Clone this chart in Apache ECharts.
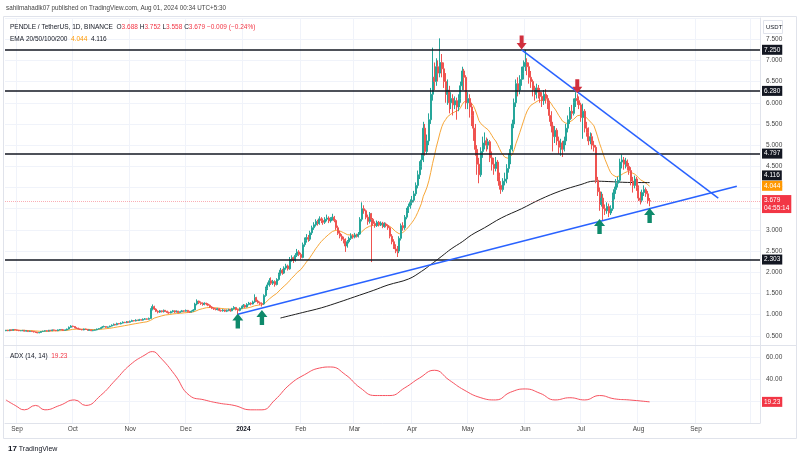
<!DOCTYPE html>
<html>
<head>
<meta charset="utf-8">
<script src="https://cdn.jsdelivr.net/npm/echarts/dist/echarts.min.js"></script>
<style>
  html, body { margin: 0; padding: 0; background: #fff; }
  #chart { width: 800px; height: 460px; }
</style>
</head>
<body>
<div id="chart"></div>
<script>
// daily slots, first one is 2023-08-26, the right side is left empty like on TradingView
const startDate = '2023-08-26'
const slotCount = 407
const lastLabelDate = '2024-09-30'
const monthNames = ['Jan', 'Feb', 'Mar', 'Apr', 'May', 'Jun', 'Jul', 'Aug', 'Sep', 'Oct', 'Nov', 'Dec']

// PENDLE/USDT 1D, open of a day = close of the day before
const firstOpen = 0.62
const closes = [
  0.63,0.62,0.64,0.63,0.65,0.64,0.63,0.62,0.62,0.63,0.61,0.62,0.60,0.61,0.60,0.59,0.58,
  0.57,0.58,0.60,0.61,0.62,0.61,0.63,0.62,0.64,0.63,0.62,0.64,0.65,0.64,0.63,0.64,
  0.66,0.70,0.73,0.72,0.69,0.68,
  0.66,0.65,0.64,0.66,0.65,0.63,0.64,0.62,0.63,0.64,0.66,0.67,
  0.69,0.71,0.72,0.70,0.71,0.73,
  0.75,0.77,0.76,0.79,0.78,0.80,0.82,0.81,0.83,0.82,0.84,0.86,0.85,0.87,0.86,0.88,0.87,0.89,0.90,0.89,0.91,
  1.12,1.19,
  1.13,1.08,1.06,1.09,1.07,1.10,1.08,1.05,1.04,1.07,1.09,1.06,1.08,1.05,1.07,1.09,1.08,1.10,1.07,1.06,1.08,1.11,
  1.25,1.32,
  1.28,1.26,1.24,1.27,1.25,1.22,
  1.18,1.15,1.13,1.12,1.14,1.10,1.09,1.11,1.08,1.10,1.12,1.09,
  1.14,1.17,1.12,1.10,
  1.15,1.19,1.22,1.18,1.24,1.27,1.25,1.30,
  1.40,
  1.32,1.28,1.26,1.25,
  1.45,1.62,1.70,1.80,
  1.74,1.78,1.71,1.83,
  1.95,2.05,1.98,2.10,2.15,2.08,
  2.30,2.34,2.28,
  2.40,2.48,2.42,2.35,
  2.65,2.75,2.82,2.78,2.93,
  3.05,3.12,3.20,3.15,3.26,3.22,
  3.18,3.25,3.28,3.21,3.26,3.30,3.22,
  3.05,2.92,2.85,2.78,2.75,2.62,
  2.72,2.80,2.86,2.83,2.88,2.85,2.90,
  3.25,3.50,3.45,
  3.30,3.20,3.38,3.25,
  3.15,3.10,3.18,3.12,3.16,3.08,3.14,3.10,3.05,
  2.85,2.72,2.60,2.55,2.50,
  2.80,3.10,3.05,3.30,3.45,3.55,
  3.65,3.70,3.85,
  4.05,4.30,4.50,4.65,
  5.40,4.85,5.10,5.60,
  6.20,6.60,
  6.50,6.85,6.70,6.95,
  6.80,6.50,6.20,6.30,
  6.00,6.10,5.95,6.05,5.90,6.10,
  6.40,6.75,6.60,
  6.00,6.10,5.90,5.70,5.40,
  4.90,4.55,4.30,
  4.85,5.05,5.10,5.00,5.08,
  4.70,4.55,4.45,4.60,
  4.25,4.05,3.95,4.15,
  4.20,4.45,4.65,4.90,
  5.50,6.00,6.45,
  6.30,6.55,6.70,6.85,
  6.95,
  6.85,6.60,6.50,
  6.30,6.20,6.35,6.25,
  6.15,6.05,6.20,6.10,6.00,
  5.70,5.45,5.20,
  5.35,5.10,4.95,5.05,4.90,
  5.10,5.40,5.60,5.80,5.75,
  6.00,6.10,6.05,
  5.95,5.65,5.80,
  5.40,5.30,5.10,5.20,5.00,4.95,
  4.17,
  3.90,3.60,3.75,3.50,
  3.45,3.55,3.40,3.50,
  3.80,3.95,4.10,4.17,
  4.60,4.65,4.55,
  4.62,4.50,
  4.40,4.15,4.05,4.20,4.00,
  3.75,3.70,
  3.88,3.95,3.85,3.688,
  3.679
]
const highs = [
  0.64,0.64,0.65,0.65,0.66,0.66,0.65,0.64,0.63,0.64,0.64,0.63,0.63,0.62,0.62,0.61,0.60,
  0.59,0.59,0.61,0.62,0.63,0.63,0.64,0.64,0.65,0.65,0.64,0.65,0.66,0.66,0.65,0.65,
  0.67,0.72,0.75,0.74,0.73,0.70,
  0.69,0.67,0.66,0.67,0.67,0.66,0.65,0.65,0.64,0.65,0.67,0.68,
  0.70,0.73,0.74,0.73,0.72,0.74,
  0.77,0.79,0.78,0.81,0.80,0.82,0.84,0.83,0.85,0.84,0.86,0.88,0.87,0.89,0.88,0.90,0.89,0.91,0.92,0.91,0.93,
  1.15,1.24,
  1.21,1.15,1.10,1.11,1.10,1.12,1.11,1.09,1.07,1.09,1.11,1.10,1.10,1.09,1.09,1.11,1.10,1.12,1.11,1.09,1.10,1.13,
  1.28,1.36,
  1.33,1.31,1.29,1.29,1.28,1.27,
  1.24,1.20,1.17,1.15,1.16,1.15,1.12,1.13,1.12,1.12,1.14,1.13,
  1.16,1.20,1.18,1.14,
  1.17,1.21,1.25,1.24,1.27,1.30,1.29,1.33,
  1.48,
  1.42,1.35,1.31,1.29,
  1.48,1.66,1.76,1.86,
  1.88,1.82,1.81,1.86,
  1.99,2.10,2.08,2.14,2.20,2.18,
  2.36,2.40,2.37,
  2.45,2.55,2.52,2.46,
  2.70,2.82,2.90,2.88,2.98,
  3.10,3.18,3.25,3.24,3.32,3.30,
  3.27,3.30,3.36,3.32,3.30,3.38,3.33,
  3.25,3.10,2.98,2.90,2.84,2.80,
  2.76,2.84,2.92,2.90,2.93,2.91,2.95,
  3.30,3.65,3.58,
  3.48,3.36,3.42,3.40,
  3.28,3.20,3.22,3.21,3.20,3.19,3.18,3.17,3.13,
  3.08,2.90,2.78,2.66,2.62,
  2.85,3.15,3.18,3.35,3.52,3.62,
  3.72,3.80,3.92,
  4.12,4.40,4.62,4.80,
  5.55,5.50,5.25,5.75,
  6.35,7.30,
  6.95,7.05,7.00,7.52,
  7.15,6.95,6.70,6.55,
  6.40,6.25,6.20,6.15,6.12,6.20,
  6.50,6.85,6.80,
  6.65,6.25,6.20,6.00,5.80,
  5.50,5.00,4.70,
  4.95,5.20,5.30,5.18,5.15,
  5.12,4.85,4.70,4.72,
  4.65,4.35,4.15,4.22,
  4.35,4.55,4.80,5.00,
  5.60,6.10,6.55,
  6.60,6.65,6.85,7.00,
  7.25,
  7.05,6.95,6.75,
  6.55,6.40,6.45,6.42,
  6.35,6.25,6.30,6.32,6.18,
  6.05,5.80,5.55,
  5.45,5.40,5.20,5.15,5.10,
  5.20,5.50,5.70,5.90,5.95,
  6.10,6.25,6.20,
  6.15,6.00,5.98,
  5.85,5.55,5.42,5.30,5.28,5.10,
  5.00,
  4.25,4.00,3.90,3.85,
  3.60,3.65,3.62,3.58,
  3.88,4.02,4.20,4.25,
  4.68,4.78,4.72,
  4.70,4.66,
  4.58,4.48,4.25,4.28,4.25,
  4.05,3.90,
  3.95,4.05,4.00,3.92,
  3.752
]
const lows = [
  0.61,0.61,0.61,0.62,0.62,0.63,0.62,0.61,0.61,0.61,0.60,0.60,0.59,0.59,0.59,0.58,0.57,
  0.56,0.56,0.57,0.59,0.60,0.60,0.60,0.61,0.61,0.62,0.61,0.61,0.63,0.63,0.62,0.62,
  0.63,0.65,0.69,0.70,0.68,0.66,
  0.65,0.64,0.63,0.63,0.64,0.62,0.62,0.61,0.61,0.62,0.63,0.65,
  0.66,0.68,0.70,0.69,0.69,0.70,
  0.72,0.74,0.75,0.75,0.77,0.77,0.79,0.80,0.80,0.81,0.81,0.83,0.84,0.84,0.85,0.85,0.86,0.86,0.88,0.88,0.88,
  0.90,1.10,
  1.11,1.06,1.03,1.04,1.05,1.05,1.06,1.03,1.02,1.03,1.05,1.04,1.05,1.03,1.04,1.06,1.06,1.07,1.05,1.04,1.05,1.07,
  1.10,1.22,
  1.25,1.23,1.21,1.22,1.22,1.20,
  1.16,1.13,1.11,1.10,1.10,1.08,1.07,1.07,1.06,1.06,1.08,1.07,
  1.08,1.12,1.10,1.01,
  1.08,1.13,1.17,1.16,1.17,1.22,1.22,1.24,
  1.28,
  1.30,1.26,1.23,1.19,
  1.23,1.42,1.58,1.66,
  1.70,1.70,1.66,1.69,
  1.80,1.92,1.94,1.96,2.06,2.04,
  2.06,2.25,2.22,
  2.25,2.36,2.38,2.30,
  2.33,2.60,2.70,2.72,2.74,
  2.88,3.00,3.08,3.10,3.12,3.16,
  3.12,3.14,3.20,3.16,3.17,3.22,3.18,
  3.00,2.88,2.80,2.74,2.68,2.48,
  2.58,2.68,2.76,2.79,2.80,2.82,2.82,
  2.88,3.20,3.38,
  3.25,3.12,3.15,2.24,
  3.10,3.05,3.07,3.08,3.09,3.04,3.05,3.06,3.00,
  2.80,2.66,2.55,2.45,2.36,
  2.45,2.75,2.98,3.00,3.25,3.40,
  3.50,3.58,3.65,
  3.80,3.98,4.20,4.42,
  4.60,4.75,4.78,5.00,
  5.50,6.05,
  6.30,6.40,6.50,6.60,
  6.60,6.35,6.00,5.95,
  5.75,5.85,5.70,5.85,5.60,5.80,
  6.00,6.30,6.30,
  5.85,5.85,5.65,5.45,5.10,
  4.75,4.30,4.10,
  4.25,4.70,4.90,4.85,4.90,
  4.60,4.40,4.30,4.38,
  4.15,3.95,3.85,3.90,
  4.05,4.10,4.35,4.55,
  4.85,5.40,5.90,
  6.15,6.20,6.40,6.55,
  6.75,
  6.65,6.45,6.35,
  6.15,6.05,6.10,6.10,
  6.00,5.90,5.95,5.98,5.85,
  5.55,5.30,4.85,
  5.05,5.00,4.80,4.75,4.72,
  4.85,5.00,5.30,5.50,5.62,
  5.70,5.90,5.95,
  5.85,5.55,5.15,
  5.30,5.20,5.00,5.02,4.90,4.85,
  4.10,
  3.80,3.45,3.55,3.23,
  3.35,3.38,3.30,3.35,
  3.45,3.72,3.85,4.00,
  4.12,4.45,4.42,
  4.45,4.40,
  4.30,4.05,3.88,3.98,3.92,
  3.68,3.60,
  3.65,3.80,3.78,3.62,
  3.558
]

// EMA 200: [slot, value]
const ema200Points = [
  [148,0.92],[160,1.05],[170,1.16],[180,1.30],[188,1.42],[198,1.57],[206,1.70],[217,1.84],
  [224,2.02],[229,2.18],[235,2.38],[240,2.55],[246,2.72],[251,2.88],[258,3.05],[267,3.28],
  [278,3.50],[288,3.72],[299,3.92],[310,4.07],[317,4.15],[325,4.14],[335,4.12],[347,4.116]
]

// ADX (14, 14): [slot, value]
const adxPoints = [
  [0,21],[5,16],[10,12],[16,16],[21,12],[29,16],[37,21],[43,16],[51,25],[59,39],[67,53],[75,62],
  [79,65],[83,60],[91,44],[99,25],[107,21],[115,18],[123,16],[132,12],[138,12],[145,21],[153,35],
  [161,44],[169,50],[175,51],[183,44],[191,32],[199,25],[207,25],[215,32],[223,41],[231,48],
  [239,39],[247,30],[256,23],[264,21],[272,28],[280,31],[288,27],[296,21],[304,23],[312,21],
  [320,25],[328,22],[336,21],[347,19.23]
]

// drawn objects
const levels = [7.25, 6.28, 4.797, 2.303]
const lowerTrend = [[124.6, 1.01], [393.5, 4.03]]
const upperTrend = [[278.2, 7.25], [384, 3.75]]
const redArrows = [[278.2, 7.42], [308.4, 6.39]]
const greenArrows = [[124.8, 0.85], [138, 0.93], [320.3, 3.08], [346.8, 3.34]]

const lastOHLC = ['3.688', '3.752', '3.558', '3.679']
const lastChange = '\u22120.009 (\u22120.24%)'
const emaLabels = ['4.044', '4.116']
const lastPrice = 3.679
const ema20Last = 4.044
const ema200Last = 4.116
const adxLast = 19.23
const countdown = '04:55:14'

const dates = []
for (let i = 0; i < slotCount; i++) {
  const d = new Date(startDate + 'T00:00:00Z')
  d.setUTCDate(d.getUTCDate() + i)
  dates.push(d.toISOString().slice(0, 10))
}

const candles = closes.map((c, i) => {
  const o = i === 0 ? firstOpen : closes[i - 1]
  return [o, c, lows[i], highs[i]]
})

// EMA 20 of the closes
const ema20 = []
closes.forEach((c, i) => {
  const prev = i === 0 ? c : ema20[i - 1]
  ema20.push(i === 0 ? c : c * 2 / 21 + prev * 19 / 21)
})

const isMonthStart = (index, value) => value.slice(8) === '01'
const isLabelled = (index, value) => isMonthStart(index, value) && value <= lastLabelDate
const font = "'Liberation Sans', sans-serif"
const fs = 6.5
const up = '#26a69a'
const down = '#ef5350'
const hidden = 'rgba(0,0,0,0)'
const arrowDown = 'path://M3,0 L7,0 L7,7 L10,7 L5,13 L0,7 L3,7 Z'
const arrowUp = 'path://M5,0 L10,6 L7,6 L7,13 L3,13 L3,6 L0,6 Z'

const axisBox = (bg, text, offset) => ({
  show: true,
  position: 'end',
  distance: 2,
  formatter: text,
  backgroundColor: bg,
  color: '#fff',
  fontFamily: font,
  fontSize: fs,
  lineHeight: 8,
  padding: [1, 2, 1, 2],
  offset: offset || [0, 0]
})

const chart = echarts.init(document.getElementById('chart'))
const option = {
  animation: false,
  backgroundColor: '#fff',
  textStyle: { fontFamily: font },
  title: [
    {
      left: 6, top: 5, padding: 0,
      text: 'sahilmahadlk07 published on TradingView.com, Aug 01, 2024 00:34 UTC+5:30',
      textStyle: { fontSize: 6.3, fontWeight: 'normal', color: '#444', fontFamily: font }
    },
    {
      left: 10, top: 24, padding: 0,
      text: 'PENDLE / TetherUS, 1D, BINANCE  O{r|' + lastOHLC[0] + '} H{r|' + lastOHLC[1] + '} L{r|' +
        lastOHLC[2] + '} C{r|' + lastOHLC[3] + '} {r|' + lastChange + '}',
      textStyle: {
        fontSize: fs, fontWeight: 'normal', color: '#131722', fontFamily: font,
        rich: { r: { fontSize: fs, color: '#f23645', fontFamily: font } }
      }
    },
    {
      left: 10, top: 36, padding: 0,
      text: 'EMA 20/50/100/200  {o|' + emaLabels[0] + '}  ' + emaLabels[1],
      textStyle: {
        fontSize: fs, fontWeight: 'normal', color: '#131722', fontFamily: font,
        rich: { o: { fontSize: fs, color: '#ff9800', fontFamily: font } }
      }
    },
    {
      left: 10, top: 353, padding: 0,
      text: 'ADX (14, 14)  {r|' + adxLast.toFixed(2) + '}',
      textStyle: {
        fontSize: fs, fontWeight: 'normal', color: '#131722', fontFamily: font,
        rich: { r: { fontSize: fs, color: '#f23645', fontFamily: font } }
      }
    },
    {
      left: 8, top: 445, padding: 0,
      text: '{l|17} TradingView',
      textStyle: {
        fontSize: 7, fontWeight: 'normal', color: '#131722', fontFamily: font,
        rich: { l: { fontSize: 8, fontWeight: 'bold', color: '#131722', fontFamily: font } }
      }
    }
  ],
  graphic: [
    { type: 'rect', shape: { x: 3.5, y: 16.5, width: 793, height: 422 }, style: { fill: 'none', stroke: '#e0e3eb', lineWidth: 1 }, z: 0 },
    { type: 'line', shape: { x1: 3, y1: 345.5, x2: 797, y2: 345.5 }, style: { stroke: '#e0e3eb', lineWidth: 1 }, z: 5 },
    { type: 'rect', shape: { x: 763.5, y: 20.5, width: 19, height: 13 }, style: { fill: '#fff', stroke: '#e0e3eb', lineWidth: 1 }, z: 20 },
    { type: 'text', x: 766, y: 24.5, style: { text: 'USDT', fontSize: 6, fill: '#131722', fontFamily: font }, z: 21 }
  ],
  grid: [
    { left: 5, right: 40, top: 18, bottom: 103, containLabel: false },
    { left: 5, right: 40, top: 345, bottom: 37, containLabel: false }
  ],
  xAxis: [
    {
      type: 'category', gridIndex: 0, data: dates, boundaryGap: true,
      axisLine: { show: false }, axisTick: { show: false }, axisLabel: { show: false },
      splitLine: { show: true, interval: isMonthStart, lineStyle: { color: '#f0f3fa', width: 1 } }
    },
    {
      type: 'category', gridIndex: 1, data: dates, boundaryGap: true,
      axisLine: { show: true, lineStyle: { color: '#e0e3eb' } }, axisTick: { show: false },
      splitLine: { show: true, interval: isMonthStart, lineStyle: { color: '#f0f3fa', width: 1 } },
      axisLabel: {
        interval: isLabelled, margin: 3, fontSize: fs, color: '#444', fontFamily: font,
        formatter: (value) => {
          const m = +value.slice(5, 7)
          return m === 1 ? '{y|' + value.slice(0, 4) + '}' : monthNames[m - 1]
        },
        rich: { y: { fontSize: fs, fontWeight: 'bold', color: '#131722', fontFamily: font } }
      }
    }
  ],
  yAxis: [
    {
      type: 'value', gridIndex: 0, position: 'right', min: 0, max: 8, interval: 0.5,
      axisLine: { show: true, lineStyle: { color: '#e0e3eb' } }, axisTick: { show: false },
      splitLine: { lineStyle: { color: '#f0f3fa' } },
      axisLabel: {
        margin: 6, fontSize: fs, color: '#444', fontFamily: font,
        formatter: (v) => (v <= 0 || v > 7.6 ? '' : v.toFixed(3))
      }
    },
    {
      type: 'value', gridIndex: 1, position: 'right', min: 0, max: 71, interval: 20,
      axisLine: { show: true, lineStyle: { color: '#e0e3eb' } }, axisTick: { show: false },
      splitLine: { lineStyle: { color: '#f0f3fa' } },
      axisLabel: {
        margin: 6, fontSize: fs, color: '#444', fontFamily: font,
        formatter: (v) => (v === 40 || v === 60 ? v.toFixed(2) : '')
      }
    }
  ],
  series: [
    {
      name: 'PENDLE', type: 'candlestick', xAxisIndex: 0, yAxisIndex: 0,
      data: candles, barWidth: 1.5, z: 3,
      itemStyle: { color: up, color0: down, borderColor: up, borderColor0: down, borderWidth: 1 },
      markLine: {
        silent: true, symbol: ['none', 'none'], z: 4,
        data: [
          ...levels.map(v => ({
            yAxis: v,
            lineStyle: { color: '#131722', width: 1.5, type: 'solid' },
            label: axisBox('#131722', v.toFixed(3))
          })),
          {
            yAxis: lastPrice,
            lineStyle: { color: 'rgba(242,54,69,0.4)', width: 1, type: 'dotted' },
            label: axisBox('#f23645', lastPrice.toFixed(3) + '\n' + countdown, [0, 3])
          },
          {
            yAxis: ema200Last,
            lineStyle: { color: hidden },
            label: axisBox('#131722', ema200Last.toFixed(3), [0, -7])
          },
          {
            yAxis: ema20Last,
            lineStyle: { color: hidden },
            label: axisBox('#ff9800', ema20Last.toFixed(3))
          }
        ]
      },
      markPoint: {
        silent: true, z: 6,
        label: { show: false },
        data: [
          ...redArrows.map(p => ({ coord: p, symbol: arrowDown, symbolSize: [10, 14], itemStyle: { color: '#d12f3d' } })),
          ...greenArrows.map(p => ({ coord: p, symbol: arrowUp, symbolSize: [11, 15], itemStyle: { color: '#0e8a6b' } }))
        ]
      }
    },
    {
      name: 'EMA 20', type: 'line', xAxisIndex: 0, yAxisIndex: 0, data: ema20,
      showSymbol: false, lineStyle: { color: '#f7a738', width: 1 }, z: 2, silent: true
    },
    {
      name: 'EMA 200', type: 'line', xAxisIndex: 0, yAxisIndex: 0, data: ema200Points,
      showSymbol: false, smooth: 0.4, lineStyle: { color: '#1e1e1e', width: 1 }, z: 2, silent: true
    },
    {
      name: 'Support', type: 'line', xAxisIndex: 0, yAxisIndex: 0, data: lowerTrend,
      showSymbol: false, lineStyle: { color: '#2962ff', width: 1.5 }, z: 5, silent: true
    },
    {
      name: 'Resistance', type: 'line', xAxisIndex: 0, yAxisIndex: 0, data: upperTrend,
      showSymbol: false, lineStyle: { color: '#2962ff', width: 1.5 }, z: 5, silent: true
    },
    {
      name: 'ADX', type: 'line', xAxisIndex: 1, yAxisIndex: 1, data: adxPoints,
      showSymbol: false, smooth: 0.5, lineStyle: { color: '#f7525f', width: 1 }, z: 3, silent: true,
      markLine: {
        silent: true, symbol: ['none', 'none'],
        data: [{ yAxis: adxLast, lineStyle: { color: hidden }, label: axisBox('#f23645', adxLast.toFixed(2)) }]
      }
    }
  ]
}
chart.setOption(option)
</script>
</body>
</html>
